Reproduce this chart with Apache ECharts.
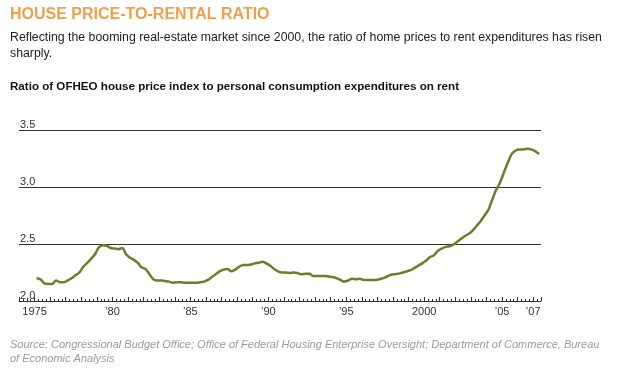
<!DOCTYPE html>
<html>
<head>
<meta charset="utf-8">
<script src="https://cdn.jsdelivr.net/npm/echarts@6/dist/echarts.min.js"></script>
<style>
html,body{margin:0;padding:0;background:#fff;}
#chart{width:627px;height:376px;}
</style>
</head>
<body>
<div id="chart"></div>
<script>
// Quarterly data, 1975Q1 .. 2007Q2
const startYear = 1975;
const ratio = [
  2.20, 2.19, 2.155, 2.15,
  2.15, 2.18, 2.165, 2.165,
  2.18, 2.20, 2.225, 2.25,
  2.30, 2.335, 2.37, 2.41,
  2.47, 2.49, 2.485, 2.465,
  2.46, 2.455, 2.465, 2.41,
  2.38, 2.36, 2.335, 2.295,
  2.28, 2.235, 2.19, 2.18,
  2.18, 2.175, 2.17, 2.16,
  2.165, 2.165, 2.16, 2.16,
  2.16, 2.16, 2.165, 2.17,
  2.185, 2.21, 2.235, 2.26,
  2.275, 2.28, 2.26, 2.275,
  2.30, 2.315, 2.315, 2.32,
  2.33, 2.335, 2.345, 2.33,
  2.31, 2.28, 2.26, 2.25,
  2.25, 2.245, 2.25, 2.245,
  2.235, 2.24, 2.24, 2.22,
  2.22, 2.22, 2.22, 2.215,
  2.21, 2.20, 2.185, 2.17,
  2.18, 2.195, 2.19, 2.195,
  2.185, 2.185, 2.185, 2.185,
  2.19, 2.20, 2.215, 2.23,
  2.235, 2.24, 2.25, 2.26,
  2.27, 2.29, 2.31, 2.33,
  2.355, 2.385, 2.40, 2.44,
  2.46, 2.475, 2.48, 2.495,
  2.52, 2.545, 2.57, 2.59,
  2.62, 2.66, 2.70, 2.75,
  2.80, 2.89, 2.975, 3.04,
  3.13, 3.215, 3.29, 3.32,
  3.33, 3.33, 3.335, 3.33,
  3.315, 3.29
];
const xTickLabels = {1975:'1975',1980:'\u201980',1985:'\u201985',1990:'\u201990',1995:'\u201995',2000:'2000',2005:'\u201905',2007:'\u201907'};
const yTicks = [2.0, 2.5, 3.0, 3.5];

const titleText = 'HOUSE PRICE-TO-RENTAL RATIO';
const subtitleText = 'Reflecting the booming real-estate market since 2000, the ratio of home prices to rent expenditures has risen\nsharply.';
const chartTitleText = 'Ratio of OFHEO house price index to personal consumption expenditures on rent';
const sourceText = 'Source: Congressional Budget Office; Office of Federal Housing Enterprise Oversight; Department of Commerce, Bureau\nof Economic Analysis';

const seriesData = ratio.map((v, i) => [startYear + (i + 0.5) / 4, v]);

const chart = echarts.init(document.getElementById('chart'));
chart.setOption({
  animation: false,
  backgroundColor: '#fff',
  title: [
    {text: titleText, left: 5, top: 2, textStyle: {fontFamily: 'Liberation Sans, Arial', fontSize: 16, fontWeight: 'bold', color: '#f0a04a'}},
    {text: subtitleText, left: 5, top: 25, textStyle: {fontFamily: 'Liberation Sans, Arial', fontSize: 12.3, fontWeight: 'normal', color: '#222', lineHeight: 15.5}},
    {text: chartTitleText, left: 5, top: 76, textStyle: {fontFamily: 'Liberation Sans, Arial', fontSize: 11.6, fontWeight: 'bold', color: '#111'}},
    {text: sourceText, left: 5, top: 333, textStyle: {fontFamily: 'Liberation Sans, Arial', fontSize: 11, fontWeight: 'normal', fontStyle: 'italic', color: '#9a9a9a', lineHeight: 14}}
  ],
  grid: {left: 19, width: 522, top: 130, height: 171},
  xAxis: {
    type: 'value', min: 1974, max: 2007.5, interval: 1,
    axisLine: {show: true, lineStyle: {color: '#333', width: 1}},
    axisTick: {show: true, inside: true, length: 4, lineStyle: {color: '#333'}},
    minorTick: {show: true, splitNumber: 4, length: 2, lineStyle: {color: '#333'}},
    splitLine: {show: false},
    axisLabel: {
      show: true, margin: 5, color: '#333', fontFamily: 'Liberation Sans, Arial', fontSize: 11,
      formatter: v => xTickLabels[Math.round(v)] || '',
      showMinLabel: true, showMaxLabel: true
    }
  },
  yAxis: {
    type: 'value', min: yTicks[0], max: yTicks[yTicks.length - 1], interval: 0.5,
    axisLine: {show: false}, axisTick: {show: false},
    splitLine: {show: true, lineStyle: {color: '#333', width: 1}},
    axisLabel: {
      inside: true, margin: 1, align: 'left', verticalAlign: 'bottom',
      color: '#333', fontFamily: 'Liberation Sans, Arial', fontSize: 11,
      formatter: v => v.toFixed(1)
    }
  },
  series: [{
    type: 'line', data: seriesData, showSymbol: false, smooth: 0.3,
    lineStyle: {color: '#6e7d28', width: 2.5}
  }]
});
</script>
</body>
</html>
